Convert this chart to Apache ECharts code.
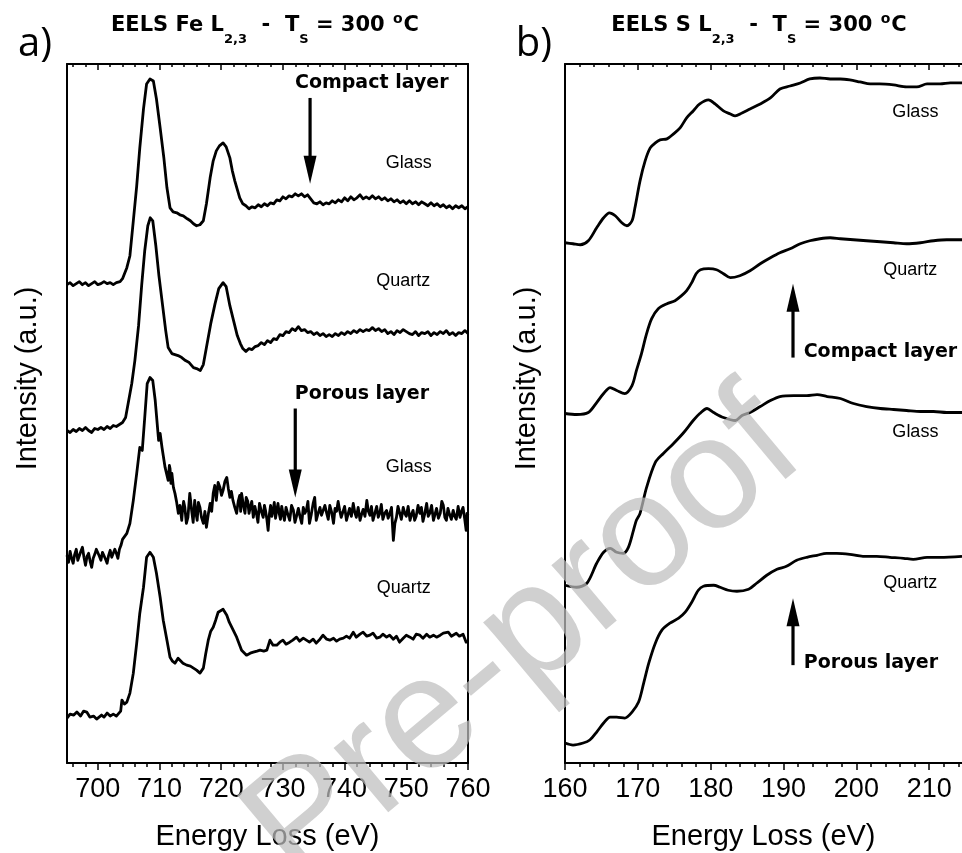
<!DOCTYPE html>
<html>
<head>
<meta charset="utf-8">
<title>EELS Fe L2,3 and S L2,3</title>
<script src="https://cdn.jsdelivr.net/npm/echarts@6/dist/echarts.min.js"></script>
<style>
  html, body { margin: 0; padding: 0; background: #ffffff; }
  #chart { width: 962px; height: 853px; }
</style>
</head>
<body>
<div id="chart"></div>
<script>
// ---------- Fe L2,3 spectra (energy loss in eV, intensity in a.u. with stacking offset) ----------
const feCompactGlass = [[695.0,479],[695.5,481],[696.0,478],[696.5,480],[697.0,482],[697.5,479],[698.0,481],[698.5,478],[699.0,480],[699.5,482],[700.0,479],[700.5,480],[701.0,482],[701.5,480],[702.0,481],[702.5,479],[703.0,481],[703.6,482],[704.0,485],[704.7,496],[705.2,508],[705.75,543],[706.3,578],[706.8,616],[707.4,655],[707.9,680],[708.45,685],[709.0,683],[709.5,665],[710.1,636],[710.7,606],[711.2,576],[711.7,556],[712.2,552],[712.8,551],[713.3,549],[713.85,548],[714.5,545],[715.0,543],[715.5,540],[716.0,538],[716.55,539],[717.1,543],[717.6,560],[718.2,586],[718.7,603],[719.2,613],[719.7,618],[720.3,621],[720.8,617],[721.4,606],[721.8,593],[722.2,583],[723.0,566],[723.5,560],[724.0,558],[724.5,555],[725.0,557],[725.5,556],[726.0,559],[726.5,557],[727.0,560],[727.5,558],[728.0,561],[728.5,560],[729.0,564],[729.5,563],[730.0,567],[730.5,565],[731.0,568],[731.5,567],[732.0,570],[732.5,568],[733.0,570],[733.5,567],[734.0,569],[734.5,565],[735.0,561],[735.5,560],[736.0,562],[736.5,559],[737.0,561],[737.5,560],[738.0,563],[738.5,561],[739.0,564],[739.5,562],[740.0,566],[740.5,563],[741.0,567],[741.5,564],[742.0,566],[742.5,569],[743.0,565],[743.5,567],[744.0,565],[744.5,568],[745.0,565],[745.5,567],[746.0,564],[746.5,566],[747.0,563],[747.5,565],[748.0,562],[748.5,564],[749.0,561],[749.5,563],[750.0,560],[750.5,563],[751.0,560],[751.5,562],[752.0,559],[752.5,562],[753.0,560],[753.5,558],[754.0,561],[754.5,558],[755.0,560],[755.5,557],[756.0,559],[756.5,556],[757.0,558],[757.5,555],[758.0,558],[758.5,556],[759.0,558],[759.5,555],[760.0,557]];

const feCompactQuartz = [[695.0,333],[695.5,331],[696.0,334],[696.5,332],[697.0,335],[697.5,333],[698.0,336],[698.5,333],[699.0,331],[699.5,335],[700.0,334],[700.5,336],[701.0,334],[701.5,337],[702.0,335],[702.5,338],[703.0,337],[703.5,339],[704.0,341],[704.5,346],[705.0,363],[705.5,380],[706.0,403],[706.6,438],[707.1,478],[707.6,513],[708.1,538],[708.5,546],[708.9,543],[709.4,518],[709.9,488],[710.5,458],[711.0,433],[711.4,416],[712.0,410],[712.5,409],[713.0,408],[713.6,406],[714.2,403],[714.8,401],[715.5,396],[716.0,395],[716.6,393],[717.1,399],[717.6,416],[718.3,440],[719.0,460],[719.6,475],[720.3,481],[720.8,477],[721.4,458],[722.0,443],[722.6,428],[723.1,420],[723.5,415],[724.0,412],[724.5,415],[725.0,414],[725.5,417],[726.0,418],[726.5,421],[727.0,419],[727.5,423],[728.0,421],[728.5,425],[729.0,424],[729.5,429],[730.0,428],[730.5,432],[731.0,431],[731.5,435],[732.0,433],[732.5,437],[733.0,433],[733.5,434],[734.0,431],[734.5,432],[735.0,429],[735.5,431],[736.0,428],[736.5,430],[737.0,427],[737.5,429],[738.0,427],[738.5,430],[739.0,428],[739.5,431],[740.0,429],[740.5,432],[741.0,430],[741.5,433],[742.0,431],[742.5,434],[743.0,432],[743.5,434],[744.0,433],[744.5,436],[745.0,433],[745.5,435],[746.0,432],[746.5,434],[747.0,430],[747.5,432],[748.0,429],[748.5,433],[749.0,431],[749.5,434],[750.0,432],[750.5,430],[751.0,429],[751.5,432],[752.0,428],[752.5,431],[753.0,430],[753.5,432],[754.0,428],[754.5,431],[755.0,429],[755.5,432],[756.0,430],[756.5,433],[757.0,429],[757.5,431],[758.0,428],[758.5,431],[759.0,430],[759.5,433],[760.0,430]];

const fePorousGlass = [[695.0,208],[695.25,201],[695.5,212],[695.75,205],[696.0,200],[696.25,209],[696.5,214],[696.75,203],[697.0,205],[697.25,212],[697.5,216],[697.75,206],[698.0,198],[698.25,207],[698.5,210],[698.75,202],[699.0,196],[699.25,205],[699.5,209],[699.75,214],[700.0,215],[700.25,207],[700.5,203],[700.75,211],[701.0,212],[701.25,204],[701.5,200],[701.75,208],[702.0,213],[702.25,206],[702.5,207],[702.75,214],[703.0,210],[703.25,205],[703.5,214],[703.75,218],[704.0,224],[704.7,230],[705.2,240],[705.75,263],[706.3,290],[706.8,316],[707.2,313],[707.6,346],[708.0,380],[708.45,386],[708.9,383],[709.3,363],[709.85,323],[710.1,330],[710.4,316],[710.9,296],[711.4,283],[711.6,298],[711.7,295],[711.85,280],[712.0,290],[712.25,276],[712.5,270],[712.75,262],[713.05,250],[713.3,258],[713.6,243],[713.75,255],[713.9,262],[714.1,256],[714.35,240],[714.6,246],[714.75,258],[714.9,270],[715.05,262],[715.2,253],[715.45,241],[715.7,263],[715.9,250],[716.1,243],[716.3,261],[716.55,256],[716.8,246],[717.1,240],[717.35,252],[717.6,236],[717.9,249],[718.2,260],[718.45,252],[718.7,270],[718.95,278],[719.2,263],[719.5,281],[719.8,276],[720.05,268],[720.3,273],[720.6,282],[720.9,286],[721.15,275],[721.4,266],[721.65,272],[721.9,263],[722.2,256],[722.5,250],[722.75,262],[723.0,268],[723.15,252],[723.3,270],[723.6,258],[723.85,250],[724.05,266],[724.3,262],[724.5,250],[724.7,256],[724.95,262],[725.2,246],[725.45,257],[725.7,250],[725.95,241],[726.2,260],[726.5,252],[726.8,246],[727.0,258],[727.2,252],[727.4,244],[727.6,233],[727.8,249],[728.0,258],[728.2,247],[728.4,253],[728.6,261],[728.8,245],[729.0,253],[729.2,260],[729.4,250],[729.6,244],[729.8,257],[730.0,250],[730.25,243],[730.5,256],[730.8,249],[731.1,243],[731.4,258],[731.7,253],[731.95,241],[732.2,247],[732.5,255],[732.8,246],[733.05,240],[733.3,256],[733.55,250],[733.8,253],[734.05,262],[734.3,240],[734.6,249],[734.9,260],[735.15,266],[735.4,243],[735.7,250],[736.0,256],[736.25,248],[736.5,246],[736.8,258],[737.1,250],[737.35,244],[737.6,258],[737.9,251],[738.2,240],[738.45,255],[738.7,252],[738.95,262],[739.2,253],[739.45,246],[739.7,244],[740.0,257],[740.3,243],[740.55,249],[740.8,255],[741.1,247],[741.4,260],[741.65,251],[741.9,246],[742.2,256],[742.5,243],[742.75,249],[743.0,254],[743.3,247],[743.6,263],[743.85,252],[744.1,248],[744.35,257],[744.6,243],[744.9,250],[745.2,257],[745.45,246],[745.7,250],[745.95,259],[746.2,244],[746.5,250],[746.8,253],[747.05,245],[747.3,249],[747.6,256],[747.9,223],[748.15,240],[748.4,246],[748.65,257],[748.9,251],[749.2,244],[749.5,256],[749.75,250],[750.0,247],[750.3,257],[750.6,243],[750.85,249],[751.1,253],[751.35,243],[751.6,247],[751.9,258],[752.2,250],[752.45,256],[752.7,242],[753.0,250],[753.3,260],[753.55,247],[753.8,250],[754.1,258],[754.4,243],[754.65,249],[754.9,255],[755.2,245],[755.5,250],[755.75,262],[756.0,258],[756.25,246],[756.5,243],[756.75,255],[757.0,249],[757.3,244],[757.6,253],[757.85,247],[758.1,244],[758.4,257],[758.7,246],[758.95,252],[759.2,256],[759.45,245],[759.7,233],[759.85,250],[760.0,248]];

const fePorousQuartz = [[695.0,45],[695.5,49],[696.1,48],[696.6,51],[697.2,47],[697.7,52],[698.2,51],[698.7,46],[699.3,47],[699.8,44],[700.1,43],[700.6,48],[701.0,46],[701.5,50],[702.0,47],[702.5,49],[703.0,47],[703.3,48],[703.7,52],[703.9,63],[704.3,59],[704.7,61],[705.2,70],[705.75,90],[706.3,120],[706.8,150],[707.4,176],[707.9,206],[708.45,211],[709.0,206],[709.5,190],[710.1,166],[710.6,143],[711.2,123],[711.7,106],[712.1,102],[712.5,100],[713.0,105],[713.3,103],[713.8,100],[714.4,98],[715.0,97],[715.5,95],[716.0,93],[716.55,90],[717.1,95],[717.5,110],[717.9,123],[718.3,132],[718.7,136],[719.1,143],[719.5,151],[720.3,154],[720.9,148],[721.3,141],[721.7,136],[722.5,126],[723.3,113],[724.1,108],[724.7,110],[725.2,111],[725.8,112],[726.3,113],[726.9,112],[727.4,113],[727.9,123],[728.4,118],[729.0,118],[729.5,121],[730.0,123],[730.5,119],[731.1,121],[731.6,123],[732.2,126],[732.7,122],[733.3,125],[733.8,123],[734.3,121],[734.9,124],[735.4,120],[736.0,124],[736.5,128],[737.1,124],[737.6,123],[738.2,125],[738.7,122],[739.2,124],[739.8,125],[740.3,127],[740.8,125],[741.4,131],[741.9,126],[742.5,129],[743.0,131],[743.6,127],[744.1,128],[744.6,130],[745.2,125],[745.7,126],[746.2,129],[746.8,126],[747.3,128],[747.9,124],[748.4,127],[748.9,121],[749.5,125],[750.0,128],[750.6,126],[751.1,124],[751.6,129],[752.2,128],[752.7,125],[753.3,129],[753.8,126],[754.4,128],[754.9,126],[755.5,128],[756.0,130],[756.8,131],[757.3,127],[758.1,130],[758.6,127],[759.2,129],[759.7,121],[760.0,122]];

// ---------- S L2,3 spectra ----------
const sCompactGlass = [[160.0,521],[161.1,520],[162.1,519],[163.2,523],[164.35,536],[165.3,546],[166.1,551],[166.9,548],[167.8,541],[168.5,538],[169.2,543],[169.6,556],[170.3,583],[171.0,603],[171.7,616],[172.4,621],[173.05,624],[174.0,625],[174.9,630],[175.8,636],[176.7,646],[177.6,653],[178.5,660],[179.7,664],[180.6,660],[181.75,653],[182.7,650],[183.35,648],[184.3,651],[185.4,655],[186.8,660],[188.2,666],[189.5,675],[190.9,678],[192.3,681],[193.6,685],[195.0,686],[196.4,685],[197.8,685],[199.1,684],[200.5,682],[201.9,680],[203.2,680],[205.1,679],[206.9,677],[208.3,677],[209.7,680],[211.5,680],[212.9,681],[214.5,681]];

const sCompactQuartz = [[160.0,350],[161.6,349],[163.2,351],[164.35,361],[165.3,370],[166.2,376],[167.1,373],[168.2,370],[169.2,378],[169.8,393],[170.5,410],[171.2,430],[171.9,445],[172.8,455],[174.0,460],[175.1,463],[176.0,468],[176.7,473],[177.4,481],[178.0,490],[178.6,494],[179.7,495],[180.8,494],[181.75,490],[182.7,486],[184.0,488],[185.4,493],[186.8,500],[188.2,506],[189.5,511],[190.9,515],[192.3,520],[193.6,523],[195.0,525],[196.4,526],[197.8,525],[199.6,524],[201.4,523],[203.3,522],[205.1,521],[206.9,520],[208.8,521],[210.6,523],[212.4,524],[214.5,524]];

const sPorousGlass = [[160.0,178],[161.6,176],[163.0,180],[164.35,200],[165.3,211],[166.2,215],[167.1,211],[168.0,210],[168.7,216],[169.4,233],[169.8,243],[170.3,250],[171.2,276],[172.4,301],[173.5,310],[174.9,320],[176.3,331],[177.6,343],[178.5,350],[179.5,355],[180.4,351],[181.75,346],[183.4,343],[184.3,348],[185.4,351],[186.8,357],[188.2,363],[189.5,367],[191.4,368],[193.2,368],[194.6,369],[196.0,367],[197.8,365],[199.6,360],[201.4,357],[203.3,355],[205.1,354],[206.9,353],[208.8,352],[210.6,352],[212.4,351],[214.5,351]];

const sPorousQuartz = [[160.0,20],[161.1,18],[162.5,20],[163.4,23],[164.35,31],[165.3,40],[166.2,46],[167.1,46],[168.2,45],[169.2,51],[170.1,61],[170.8,80],[171.5,100],[172.4,120],[173.3,133],[174.4,140],[175.6,145],[176.5,151],[177.4,161],[178.3,173],[179.0,177],[180.4,178],[181.3,176],[182.4,173],[183.6,172],[185.2,174],[186.3,180],[187.7,188],[189.1,194],[190.4,197],[191.8,203],[193.2,206],[194.6,208],[195.9,210],[197.3,210],[199.1,209],[200.9,207],[202.8,207],[204.6,206],[206.5,205],[207.8,204],[209.7,206],[211.5,206],[214.5,207]];

// ---------- axis ranges and tick positions ----------
const feRange = [695, 760];
const sRange = [160, 214.5];
const feMajorTicks = [700, 710, 720, 730, 740, 750, 760];
const feMinorTicks = [696, 698, 702, 704, 706, 708, 712, 714, 716, 718, 722, 724, 726, 728, 732, 734, 736, 738, 742, 744, 746, 748, 752, 754, 756, 758];
const sMajorTicks = [160, 170, 180, 190, 200, 210];
const sMinorTicks = [162, 164, 166, 168, 172, 174, 176, 178, 182, 184, 186, 188, 192, 194, 196, 198, 202, 204, 206, 208, 212, 214];
const intensityRange = [0, 700];

// ---------- annotations, in data coordinates ----------
const feLabels = [
  { text: 'Glass', e: 750.4, i: 601 },
  { text: 'Quartz', e: 749.5, i: 483 },
  { text: 'Glass', e: 750.4, i: 296 },
  { text: 'Quartz', e: 749.6, i: 175 }
];
const feLayers = [
  { text: 'Compact layer', e: 744.4, i: 681, arrowE: 734.4, from: 666, to: 580 },
  { text: 'Porous layer', e: 742.8, i: 369, arrowE: 732.0, from: 355, to: 266 }
];
const sLabels = [
  { text: 'Glass', e: 208.1, i: 652 },
  { text: 'Quartz', e: 207.4, i: 494 },
  { text: 'Glass', e: 208.1, i: 331 },
  { text: 'Quartz', e: 207.4, i: 180 }
];
const sLayers = [
  { text: 'Compact layer', e: 203.3, i: 412, arrowE: 191.3, from: 406, to: 480 },
  { text: 'Porous layer', e: 202.0, i: 100, arrowE: 191.3, from: 98, to: 165 }
];

const INK = '#000000';
const SANS = 'Liberation Sans, Arial, sans-serif';
const BOLD = 'DejaVu Sans, sans-serif';

function xAxes(gridIndex, range, major, minor, name) {
  const base = { type: 'value', gridIndex, min: range[0], max: range[1], splitLine: { show: false } };
  return [
    Object.assign({}, base, {
      position: 'bottom',
      axisLine: { show: true, onZero: false, lineStyle: { color: INK, width: 2 } },
      axisTick: { show: true, inside: false, length: 7, customValues: major, lineStyle: { color: INK, width: 1.5 } },
      axisLabel: { show: true, customValues: major, margin: 13, color: INK, fontSize: 27, fontFamily: SANS },
      name, nameLocation: 'middle', nameGap: 59, nameMoveOverlap: false,
      nameTextStyle: { color: INK, fontSize: 29, fontFamily: SANS }
    }),
    Object.assign({}, base, {
      position: 'bottom',
      axisLine: { show: false, onZero: false },
      axisTick: { show: true, inside: false, length: 4, customValues: minor, lineStyle: { color: INK, width: 1.5 } },
      axisLabel: { show: false }
    }),
    Object.assign({}, base, {
      position: 'top',
      axisLine: { show: true, onZero: false, lineStyle: { color: INK, width: 2 } },
      axisTick: { show: true, inside: true, length: 6, customValues: major, lineStyle: { color: INK, width: 1.5 } },
      axisLabel: { show: false }
    }),
    Object.assign({}, base, {
      position: 'top',
      axisLine: { show: false, onZero: false },
      axisTick: { show: true, inside: true, length: 3, customValues: minor, lineStyle: { color: INK, width: 1.5 } },
      axisLabel: { show: false }
    })
  ];
}

function spectrum(data, xAxisIndex, yAxisIndex, smooth) {
  return {
    type: 'line', data, xAxisIndex, yAxisIndex, smooth: smooth || false,
    showSymbol: false, symbol: 'none', silent: true, clip: true,
    lineStyle: { color: INK, width: 2.8, join: 'round' }
  };
}

const intensityName = {
  name: 'Intensity (a.u.)', nameLocation: 'middle', nameMoveOverlap: false,
  nameTextStyle: { color: INK, fontSize: 29, fontFamily: SANS, padding: [0, 0, 0, 70] }
};

const chart = echarts.init(document.getElementById('chart'), null, { renderer: 'canvas' });

const option = {
  animation: false,
  backgroundColor: '#ffffff',
  grid: [
    { left: 67, top: 64, width: 401, height: 699, outerBoundsMode: 'none' },
    { left: 565, top: 64, width: 397, height: 699, outerBoundsMode: 'none' }
  ],
  xAxis: [].concat(
    xAxes(0, feRange, feMajorTicks, feMinorTicks, 'Energy Loss (eV)'),
    xAxes(1, sRange, sMajorTicks, sMinorTicks, 'Energy Loss (eV)')
  ),
  yAxis: [
    Object.assign({
      type: 'value', gridIndex: 0, min: intensityRange[0], max: intensityRange[1], position: 'left',
      axisLine: { show: true, onZero: false, lineStyle: { color: INK, width: 2 } },
      axisTick: { show: false }, axisLabel: { show: false }, splitLine: { show: false },
      nameGap: 25
    }, intensityName),
    {
      type: 'value', gridIndex: 0, min: intensityRange[0], max: intensityRange[1], position: 'right',
      axisLine: { show: true, onZero: false, lineStyle: { color: INK, width: 2 } },
      axisTick: { show: false }, axisLabel: { show: false }, splitLine: { show: false }
    },
    Object.assign({
      type: 'value', gridIndex: 1, min: intensityRange[0], max: intensityRange[1], position: 'left',
      axisLine: { show: true, onZero: false, lineStyle: { color: INK, width: 2 } },
      axisTick: { show: false }, axisLabel: { show: false }, splitLine: { show: false },
      nameGap: 24
    }, intensityName)
  ],
  series: [
    spectrum(feCompactGlass, 0, 0),
    spectrum(feCompactQuartz, 0, 0),
    spectrum(fePorousGlass, 0, 0),
    spectrum(fePorousQuartz, 0, 0),
    spectrum(sCompactGlass, 4, 2, 0.3),
    spectrum(sCompactQuartz, 4, 2, 0.3),
    spectrum(sPorousGlass, 4, 2, 0.3),
    spectrum(sPorousQuartz, 4, 2, 0.3)
  ]
};

chart.setOption(option);

// ---------- overlay: panel letters, titles, sample labels, layer arrows ----------
function toPx(xAxisIndex, yAxisIndex, e, i) {
  return chart.convertToPixel({ xAxisIndex, yAxisIndex }, [e, i]);
}

function arrowShapes(tail, tip) {
  const dx = tip[0] - tail[0], dy = tip[1] - tail[1];
  const len = Math.sqrt(dx * dx + dy * dy);
  const ux = dx / len, uy = dy / len;
  const headLen = 28, headHalf = 6.5;
  const bx = tip[0] - ux * headLen, by = tip[1] - uy * headLen;
  return [
    { type: 'line', z: 10, shape: { x1: tail[0], y1: tail[1], x2: bx + ux * 2, y2: by + uy * 2 },
      style: { stroke: INK, lineWidth: 3.2 } },
    { type: 'polygon', z: 10,
      shape: { points: [tip, [bx - uy * headHalf, by + ux * headHalf], [bx + uy * headHalf, by - ux * headHalf]] },
      style: { fill: INK } }
  ];
}

function titleText(x, y, element) {
  return {
    type: 'text', x, y, z: 10,
    style: {
      text: '{b|EELS ' + element + ' L}{s|2,3}{b|  -  T}{s|S}{b| = 300 }{p|o}{b|C}',
      align: 'center', verticalAlign: 'middle',
      rich: {
        b: { fontFamily: BOLD, fontWeight: 'bold', fontSize: 21, lineHeight: 40, fill: INK, verticalAlign: 'middle' },
        s: { fontFamily: BOLD, fontWeight: 'bold', fontSize: 13, lineHeight: 40, fill: INK, verticalAlign: 'bottom' },
        p: { fontFamily: BOLD, fontWeight: 'bold', fontSize: 14, lineHeight: 40, fill: INK, verticalAlign: 'top', padding: [6, 1, 0, 1] }
      }
    }
  };
}

function buildOverlay() {
  const els = [];
  els.push({ type: 'text', x: 35, y: 45, z: 10,
    style: { text: 'a)', fontFamily: 'Open Sans, Noto Sans, sans-serif', fontSize: 40, fill: INK, align: 'center', verticalAlign: 'middle' } });
  els.push({ type: 'text', x: 534, y: 45, z: 10,
    style: { text: 'b)', fontFamily: 'Open Sans, Noto Sans, sans-serif', fontSize: 40, fill: INK, align: 'center', verticalAlign: 'middle' } });
  els.push(titleText(265, 26, 'Fe'));
  els.push(titleText(759, 26, 'S'));

  const panels = [
    { xi: 0, yi: 0, labels: feLabels, layers: feLayers },
    { xi: 4, yi: 2, labels: sLabels, layers: sLayers }
  ];
  panels.forEach(function (p) {
    p.labels.forEach(function (l) {
      const pt = toPx(p.xi, p.yi, l.e, l.i);
      els.push({ type: 'text', x: pt[0], y: pt[1], z: 10,
        style: { text: l.text, fontFamily: SANS, fontSize: 18, fill: INK, align: 'center', verticalAlign: 'middle' } });
    });
    p.layers.forEach(function (l) {
      const pt = toPx(p.xi, p.yi, l.e, l.i);
      els.push({ type: 'text', x: pt[0], y: pt[1], z: 10,
        style: { text: l.text, fontFamily: BOLD, fontWeight: 'bold', fontSize: 19, fill: INK, align: 'center', verticalAlign: 'middle' } });
      const tail = toPx(p.xi, p.yi, l.arrowE, l.from);
      const tip = toPx(p.xi, p.yi, l.arrowE, l.to);
      arrowShapes(tail, tip).forEach(function (s) { els.push(s); });
    });
  });

  // manuscript stamp across both panels
  els.push({ type: 'text', x: 525, y: 640, z: 20, rotation: 40 * Math.PI / 180,
    style: { text: 'Pre-proof', fontFamily: SANS, fontSize: 160, fill: 'rgba(190,190,190,0.72)', align: 'center', verticalAlign: 'middle' } });
  return els;
}

chart.setOption({ graphic: { elements: buildOverlay() } });
</script>
</body>
</html>
